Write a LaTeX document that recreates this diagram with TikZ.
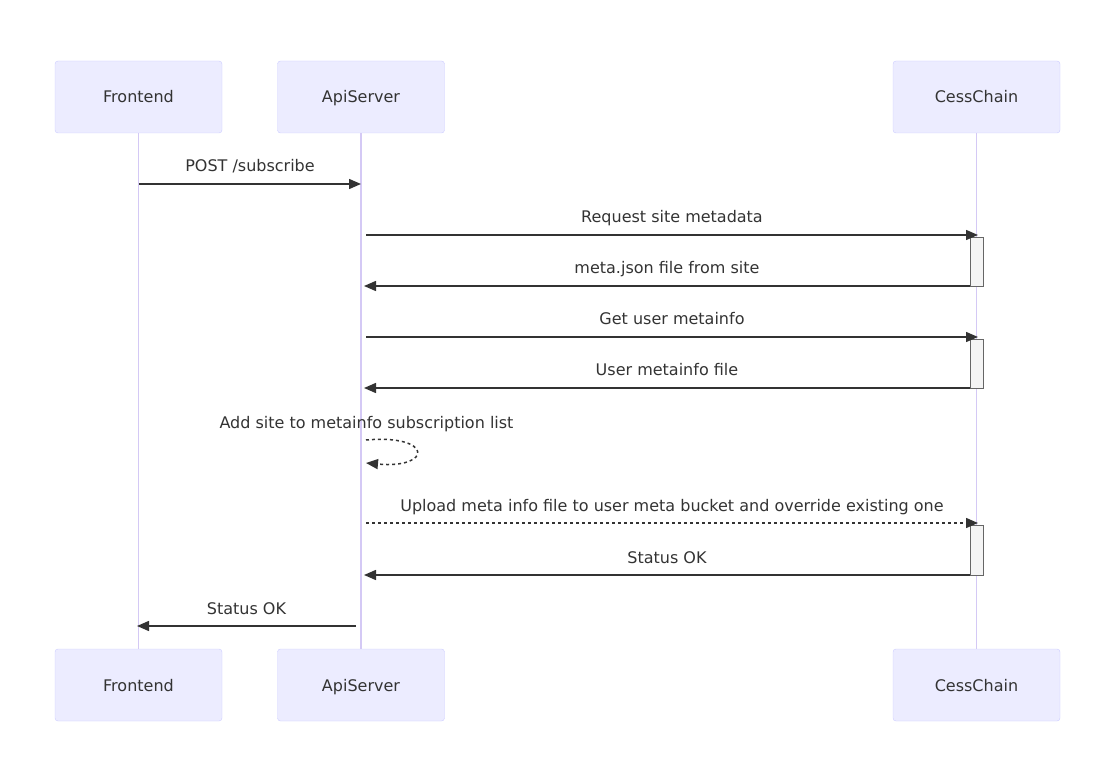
\documentclass[tikz,border=0pt]{standalone}
\usepackage{fontspec}
\setmainfont{DejaVu Sans}
\usetikzlibrary{arrows.meta}
\definecolor{actorfill}{HTML}{ECECFF}
\definecolor{actorline}{HTML}{CCCCFF}
\definecolor{lifecol}{HTML}{D4C9F5}
\definecolor{ink}{HTML}{333333}
\definecolor{barfill}{HTML}{F4F4F4}
\definecolor{barline}{HTML}{666666}

\begin{document}
\begin{tikzpicture}
  [x=1pt, y=-1pt, font=\fontsize{16}{19}\selectfont, text=ink,
   actor/.style={draw=actorline, fill=actorfill, rounded corners=3pt,
     minimum width=167pt, minimum height=72pt, text height=12pt, text depth=0pt},
   life/.style={draw=lifecol, line width=1.7pt},
   bar/.style={draw=barline, fill=barfill, minimum width=13pt, inner sep=0pt},
   msg/.style={draw=ink, line width=1.5pt, -{Triangle[length=12pt,width=10pt]}},
   dotmsg/.style={msg, dash pattern=on 3pt off 3pt},
   lbl/.style={inner sep=0pt, anchor=base, yshift=12pt}]
  \useasboundingbox (0,0) rectangle (1116,783);

  \node[actor] (fe) at (138.5, 97) {Frontend};
  \node[actor] (api) at (361, 97) {ApiServer};
  \node[actor] (cess) at (976.5, 97) {CessChain};
  \node[actor] (feb) at (138.5, 685) {Frontend};
  \node[actor] (apib) at (361, 685) {ApiServer};
  \node[actor] (cessb) at (976.5, 685) {CessChain};

  \foreach \top/\bot in {fe/feb,api/apib,cess/cessb}
  \draw[life] (\top) -- (\bot);

  \node[bar, minimum height=49pt] (act1) at (976.5, 261.5) {};
  \node[bar, minimum height=49pt] (act2) at (976.5, 363.5) {};
  \node[bar, minimum height=50pt] (act3) at (976.5, 550) {};

  \foreach \n/\xa/\xb/\y in {1/139/361/184, 2/366/978/235, 3/970/364/286,
    4/366/978/337, 5/970/364/388, 6/366/978/523, 7/970/364/575, 8/356/137/626}
  {
    \coordinate (s\n) at (\xa, \y);
    \coordinate (e\n) at (\xb, \y);
  }

  \foreach \n/\txt in {1/{POST /subscribe}, 2/Request site metadata,
    3/meta.json file from site, 4/Get user metainfo, 5/User metainfo file,
    7/Status OK, 8/Status OK}
  \draw[msg] (s\n) -- (e\n) node[lbl, midway] (l\n) {\txt};
  \draw[dotmsg] (s6) -- (e6) node[lbl, midway] (l6)
    {Upload meta info file to user meta bucket and override existing one};

  % self call on ApiServer
  \coordinate (loopa) at (366, 440);
  \coordinate (loopb) at (366, 463);
  \node[inner sep=0pt, anchor=base] (lloop) at (366.5, 428)
    {Add site to metainfo subscription list};
  \draw[dotmsg] (loopa) .. controls (433, 434) and (433, 469) .. (loopb);
\end{tikzpicture}
\end{document}
